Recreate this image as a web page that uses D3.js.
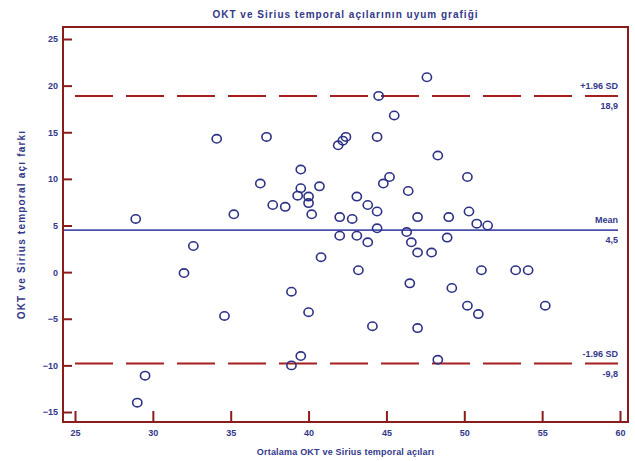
<!DOCTYPE html>
<html>
<head>
<meta charset="utf-8">
<script src="https://cdn.jsdelivr.net/npm/d3@7"></script>
<style>
  body { margin: 0; background: #fff; }
  svg { display: block; }
  text { font-family: "Liberation Sans", Arial, sans-serif; fill: #33388a; font-weight: bold; }
</style>
</head>
<body>
<svg id="chart" width="635" height="461"></svg>
<script>
// ---- data ----
const title = "OKT ve Sirius temporal açılarının uyum grafiği";
const xLabel = "Ortalama OKT ve Sirius temporal açıları";
const yLabel = "OKT ve Sirius temporal açı farkı";
const xTicks = [25, 30, 35, 40, 45, 50, 55, 60];
const yTicks = [25, 20, 15, 10, 5, 0, -5, -10, -15];
const meanValues = [28.9,29.0,29.5,32.0,32.6,34.1,34.6,35.2,36.9,37.3,37.7,38.5,38.9,38.9,39.3,39.5,39.5,39.5,40.0,40.0,40.0,40.2,40.7,40.8,41.9,42.2,42.4,42.0,42.0,42.8,43.1,43.1,43.2,43.8,43.8,44.1,44.4,44.4,44.4,44.5,44.8,45.2,45.5,46.3,46.4,46.5,46.6,47.0,47.0,47.0,47.6,47.9,48.3,48.3,48.9,49.0,49.2,50.2,50.3,50.2,50.8,50.9,51.1,51.5,53.3,54.1,55.2];
const diffValues = [5.7,-14.0,-11.1,-0.1,2.8,14.3,-4.7,6.2,9.5,14.5,7.2,7.0,-2.1,-10.0,8.2,9.0,11.0,-9.0,7.4,8.1,-4.3,6.2,9.2,1.6,13.6,14.1,14.5,5.9,3.9,5.7,8.1,3.9,0.2,7.2,3.2,-5.8,14.5,6.5,4.7,18.9,9.5,10.2,16.8,4.3,8.7,-1.2,3.2,5.9,2.1,-6.0,20.9,2.1,12.5,-9.4,3.7,5.9,-1.7,10.2,6.5,-3.6,5.2,-4.5,0.2,5.0,0.2,0.2,-3.6];
const refLines = [
  { value: 18.9, top: "+1.96 SD", bottom: "18,9", dashed: true },
  { value: 4.5, top: "Mean", bottom: "4,5", dashed: false },
  { value: -9.8, top: "-1.96 SD", bottom: "-9,8", dashed: true }
];

// ---- layout ----
const svg = d3.select("#chart");
const frame = { left: 63, right: 628, top: 27, bottom: 422 };
const x = d3.scaleLinear().domain([25, 60]).range([75, 620]);
const y = d3.scaleLinear().domain([25, -15]).range([39, 412]);
const frameColor = "#8b1c1c";
const lineRed = "#a3201f";
const lineBlue = "#4a4fae";
const markColor = "#2d3285";

// title
svg.append("text").attr("x", (frame.left + frame.right) / 2).attr("y", 18)
  .attr("text-anchor", "middle").style("font-size", "10px").style("letter-spacing", "1px")
  .text(title);

// reference lines
const lineEnd = 618;
refLines.forEach(r => {
  const yy = y(r.value);
  const ln = svg.append("line").attr("x1", frame.left).attr("x2", lineEnd)
    .attr("y1", yy).attr("y2", yy)
    .attr("stroke", r.dashed ? lineRed : lineBlue).attr("stroke-width", r.dashed ? 2 : 1.6);
  if (r.dashed) ln.attr("stroke-dasharray", "38,13").attr("stroke-dashoffset", 39);
  svg.append("text").attr("x", lineEnd).attr("y", yy - 7).attr("text-anchor", "end")
    .style("font-size", "9px").text(r.top);
  svg.append("text").attr("x", lineEnd).attr("y", yy + 13).attr("text-anchor", "end")
    .style("font-size", "9px").text(r.bottom);
});

// points
const pts = meanValues.map((m, i) => ({ m, d: diffValues[i] }));
svg.append("g").selectAll("ellipse").data(pts).join("ellipse")
  .attr("cx", p => x(p.m)).attr("cy", p => y(p.d))
  .attr("rx", 4.6).attr("ry", 4.2)
  .attr("fill", "none").attr("stroke", markColor).attr("stroke-width", 1.6);

// frame
svg.append("rect").attr("x", frame.left).attr("y", frame.top)
  .attr("width", frame.right - frame.left).attr("height", frame.bottom - frame.top)
  .attr("fill", "none").attr("stroke", frameColor).attr("stroke-width", 2);

// y axis (ticks inside)
const yAxis = d3.axisLeft(y).tickValues(yTicks).tickSize(-9).tickPadding(5).tickFormat(d3.format("d"));
const gy = svg.append("g").attr("transform", `translate(${frame.left},0)`).call(yAxis);
gy.select(".domain").remove();
gy.selectAll(".tick line").attr("stroke", frameColor).attr("stroke-width", 2);
gy.selectAll(".tick text").style("font-size", "9px").attr("font-family", null).attr("fill", null);

// x axis (ticks inside)
const xAxis = d3.axisBottom(x).tickValues(xTicks).tickSize(-11).tickPadding(8).tickFormat(d3.format("d"));
const gx = svg.append("g").attr("transform", `translate(0,${frame.bottom})`).call(xAxis);
gx.select(".domain").remove();
gx.selectAll(".tick line").attr("stroke", frameColor).attr("stroke-width", 2);
gx.selectAll(".tick text").style("font-size", "9px").attr("font-family", null).attr("fill", null);

// axis labels
svg.append("text").attr("x", (frame.left + frame.right) / 2).attr("y", 455)
  .attr("text-anchor", "middle").style("font-size", "9px").style("letter-spacing", "0.2px")
  .text(xLabel);
svg.append("text").attr("transform", `translate(25,${(frame.top + frame.bottom) / 2}) rotate(-90)`)
  .attr("text-anchor", "middle").style("font-size", "10px").style("letter-spacing", "1.2px")
  .text(yLabel);
</script>
</body>
</html>
